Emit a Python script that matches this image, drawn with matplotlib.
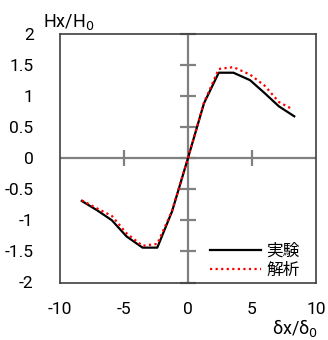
import matplotlib
matplotlib.use("Agg")
import matplotlib.pyplot as plt

plt.rcParams['font.family'] = ['Roboto', 'Noto Sans CJK JP', 'DejaVu Sans']

# experiment (black solid)
x_exp = [-8.3, -7.1, -5.95, -4.8, -3.55, -2.4, -1.25, 0.0, 1.25, 2.4, 3.55, 4.85, 6.0, 7.1, 8.3]
y_exp = [-0.69, -0.84, -1.0, -1.26, -1.44, -1.44, -0.86, 0.0, 0.88, 1.37, 1.37, 1.25, 1.04, 0.83, 0.67]

# analysis (red dotted)
x_ana = [-8.3, -7.1, -5.95, -4.8, -3.55, -2.4, -1.25, 0.0, 1.25, 2.4, 3.55, 4.85, 6.0, 7.1, 8.1]
y_ana = [-0.68, -0.81, -0.93, -1.21, -1.41, -1.38, -0.85, 0.0, 0.89, 1.43, 1.46, 1.34, 1.16, 0.9, 0.79]

xticks = [-10, -5, 0, 5, 10]
yticks = [-2, -1.5, -1, -0.5, 0, 0.5, 1, 1.5, 2]
ytick_labels = ['-2', '-1.5', '-1', '-0.5', '0', '0.5', '1', '1.5', '2']

fig = plt.figure(figsize=(3.28, 3.40), dpi=100)
ax = fig.add_axes([60 / 328, 1 - 282.5 / 340, 256 / 328, 249 / 340])
ax.set_xlim(-10, 10)
ax.set_ylim(-2, 2)

# zero axes with crossing ticks
ax.axhline(0, color='#808080', lw=1.6, zorder=1)
ax.axvline(0, color='#808080', lw=1.6, zorder=1)
ax.plot([0] * len(yticks), yticks, ls='none', marker='_', ms=11, mew=1.6,
        color='#808080', zorder=1, clip_on=False)
ax.plot([-5, 5], [0, 0], ls='none', marker='|', ms=11, mew=1.6,
        color='#808080', zorder=1)

ax.plot(x_exp, y_exp, color='black', lw=1.6, label='実験', zorder=3)
ax.plot(x_ana, y_ana, color='red', lw=1.6, ls=(0, (1, 1.5)), label='解析', zorder=4)

ax.set_xticks(xticks)
ax.set_xticklabels([str(t) for t in xticks])
ax.set_yticks(yticks)
ax.set_yticklabels(ytick_labels)
ax.tick_params(length=0, labelsize=12.5, colors='black')
ax.tick_params(axis='x', pad=14)
ax.tick_params(axis='y', pad=19)
for s in ax.spines.values():
    s.set_color('#404040')
    s.set_linewidth(1.2)

ax.text(-11.3, 2.03, 'Hx/H$_0$', fontsize=13, ha='left', va='bottom',
        clip_on=False)
ax.text(10.15, -2.73, 'δx/δ$_0$', fontsize=13, ha='right', va='center',
        clip_on=False)

ax.legend(loc='lower right', bbox_to_anchor=(0.955, 0.0), frameon=False,
          fontsize=12, handlelength=3.1, handletextpad=0.3,
          labelspacing=0.2, borderaxespad=0.1, borderpad=0.2)

plt.savefig("out.png", dpi=100)
